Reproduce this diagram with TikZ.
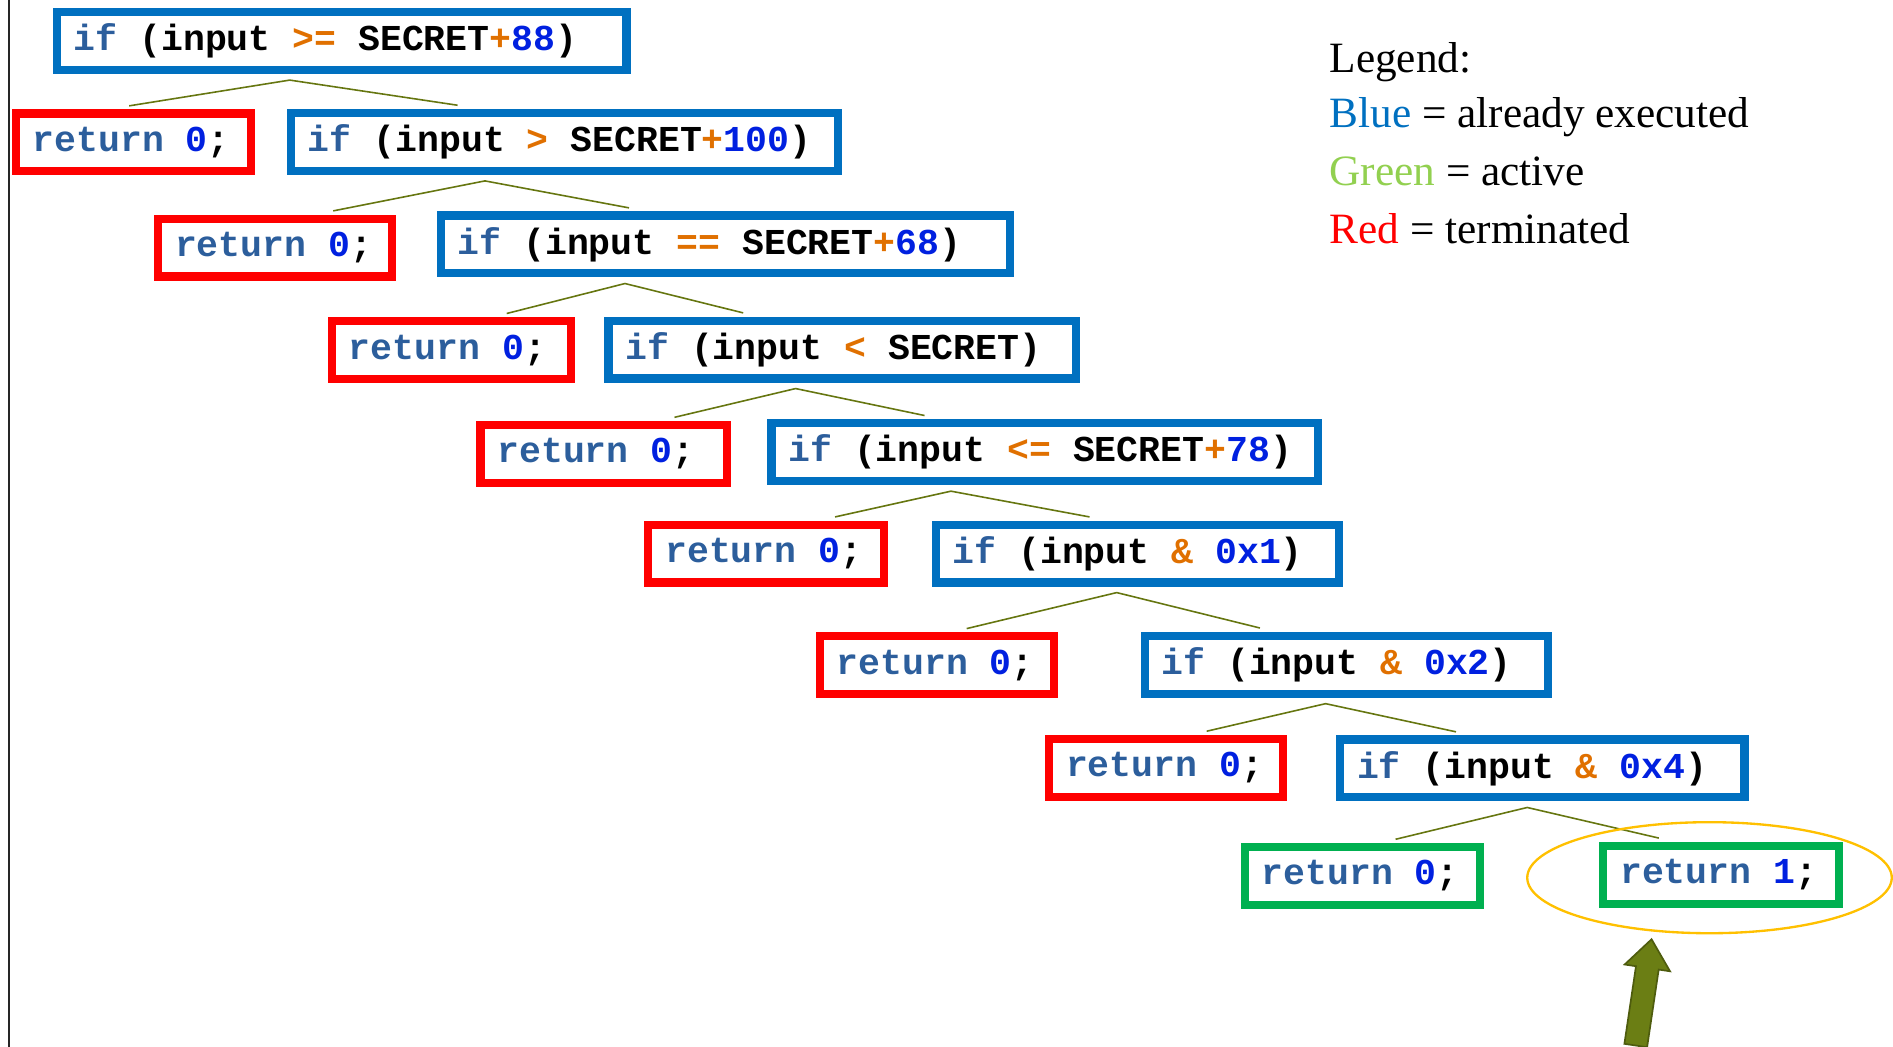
\documentclass[tikz,border=0pt]{standalone}
\usepackage{fontspec}
\setmainfont{Liberation Serif}
\setmonofont{Liberation Mono}
\usetikzlibrary{calc}

\definecolor{boxblue}{RGB}{0,112,192}
\definecolor{boxred}{RGB}{255,0,0}
\definecolor{boxgreen}{RGB}{0,176,80}
\definecolor{legreen}{RGB}{146,208,80}
\definecolor{kwblue}{RGB}{44,94,156}
\definecolor{numblue}{RGB}{0,32,224}
\definecolor{oporange}{RGB}{224,112,0}
\definecolor{branch}{RGB}{102,118,16}
\definecolor{ring}{RGB}{255,192,0}
\definecolor{arrowfill}{RGB}{107,126,20}
\definecolor{arrowline}{RGB}{78,92,14}

\newcommand{\kw}[1]{\textcolor{kwblue}{#1}}
\newcommand{\opr}[1]{\textcolor{oporange}{#1}}
\newcommand{\nm}[1]{\textcolor{numblue}{#1}}
% left-aligned line of code in a box of fixed width
\newcommand{\codeln}[2]{\makebox[#1][l]{#2}}

\begin{document}
\begin{tikzpicture}[x=0.02cm, y=-0.02cm,
    code/.style = {draw, line width=3.8pt, minimum height=0.96cm, inner xsep=0.28cm,
      inner ysep=0pt, font=\ttfamily\bfseries\fontsize{17.2}{20}\selectfont},
    ifbox/.style = {code, draw=boxblue},
    retbox/.style = {code, draw=boxred},
    activebox/.style = {code, draw=boxgreen},
    edge/.style = {draw=branch, line width=0.75pt},
    legend/.style = {anchor=base west, inner sep=0pt, font=\fontsize{20.4}{24}\selectfont}]
  \useasboundingbox (0,0) rectangle (1568,867);
  \draw[black!85, line width=0.9pt] (7.5,0) -- (7.5,867);

  % the chain of checks
  \node[ifbox] (i1) at (283,34) {\codeln{8.88cm}{\kw{if} (input \opr{>=} SECRET\opr{+}\nm{88})}};
  \node[retbox] (r1) at (110.5,118) {\codeln{3.34cm}{\kw{return} \nm{0};}};
  \node[ifbox] (i2) at (467.5,117.5) {\codeln{8.50cm}{\kw{if} (input \opr{>} SECRET\opr{+}\nm{100})}};
  \node[retbox] (r2) at (228,205) {\codeln{3.32cm}{\kw{return} \nm{0};}};
  \node[ifbox] (i3) at (601,202.5) {\codeln{8.88cm}{\kw{if} (input \opr{==} SECRET\opr{+}\nm{68})}};
  \node[retbox] (r3) at (374,290) {\codeln{3.40cm}{\kw{return} \nm{0};}};
  \node[ifbox] (i4) at (697.5,289.5) {\codeln{7.18cm}{\kw{if} (input \opr{<} SECRET)}};
  \node[retbox] (r4) at (500,376) {\codeln{3.52cm}{\kw{return} \nm{0};}};
  \node[ifbox] (i5) at (865.5,374.5) {\codeln{8.50cm}{\kw{if} (input \opr{<=} SECRET\opr{+}\nm{78})}};
  \node[retbox] (r5) at (634.5,458.5) {\codeln{3.34cm}{\kw{return} \nm{0};}};
  \node[ifbox] (i6) at (942,458.5) {\codeln{6.12cm}{\kw{if} (input \opr{\&} \nm{0x1})}};
  \node[retbox] (r6) at (776,551) {\codeln{3.32cm}{\kw{return} \nm{0};}};
  \node[ifbox] (i7) at (1115,550.5) {\codeln{6.12cm}{\kw{if} (input \opr{\&} \nm{0x2})}};
  \node[retbox] (r7) at (966,636) {\codeln{3.32cm}{\kw{return} \nm{0};}};
  \node[ifbox] (i8) at (1277.5,636.5) {\codeln{6.14cm}{\kw{if} (input \opr{\&} \nm{0x4})}};
  \node[activebox] (g1) at (1128.5,725.5) {\codeln{3.34cm}{\kw{return} \nm{0};}};
  \node[activebox] (g2) at (1425.5,724.5) {\codeln{3.34cm}{\kw{return} \nm{1};}};

  % branches
  \draw[edge] ($(r1.north)+(-3.5,-3)$) -- ($(i1.south)+(-43,5)$) -- ($(i2.north)+(-88.5,-3)$);
  \draw[edge] ($(r2.north)+(48,-3)$) -- ($(i2.south)+(-65.8,5)$) -- ($(i3.north)+(-80,-3)$);
  \draw[edge] ($(r3.north)+(45.7,-3)$) -- ($(i3.south)+(-83.3,5)$) -- ($(i4.north)+(-81.9,-3)$);
  \draw[edge] ($(r4.north)+(58.7,-3)$) -- ($(i4.south)+(-38.5,5)$) -- ($(i5.north)+(-99.7,-3)$);
  \draw[edge] ($(r5.north)+(57.2,-3)$) -- ($(i5.south)+(-77.8,5)$) -- ($(i6.north)+(-39.5,-3)$);
  \draw[edge] ($(r6.north)+(24.7,-3)$) -- ($(i6.south)+(-17,5)$) -- ($(i7.north)+(-71.4,-3)$);
  \draw[edge] ($(r7.north)+(33.5,-3)$) -- ($(i7.south)+(-17,5)$) -- ($(i8.north)+(-71.5,-3)$);
  \draw[edge] ($(g1.north)+(27.5,-3)$) -- ($(i8.south)+(-12.5,5)$) -- ($(g2.north)+(-51.5,-3)$);

  % highlight on the reached leaf
  \draw[ring, line width=1.1pt] ($(g2)+(-9.5,2.5)$) ellipse [x radius=3.02cm, y radius=0.92cm];
  \draw[fill=arrowfill, draw=arrowline, line width=0.8pt, line join=miter]
    (1368,778) -- (1383.3,804.5) -- (1373.9,803.1) -- (1364.3,867.4)
    -- (1345.5,864.6) -- (1355.1,800.3) -- (1345.7,798.9) -- cycle;

  % legend
  \node[legend] (leg0) at (1101,60) {Legend:};
  \node[legend] (leg1) at (1101,106) {\textcolor{boxblue}{Blue} = already executed};
  \node[legend] (leg2) at (1101,154) {\textcolor{legreen}{Green} = active};
  \node[legend] (leg3) at (1101,202) {\textcolor{boxred}{Red} = terminated};
\end{tikzpicture}
\end{document}
